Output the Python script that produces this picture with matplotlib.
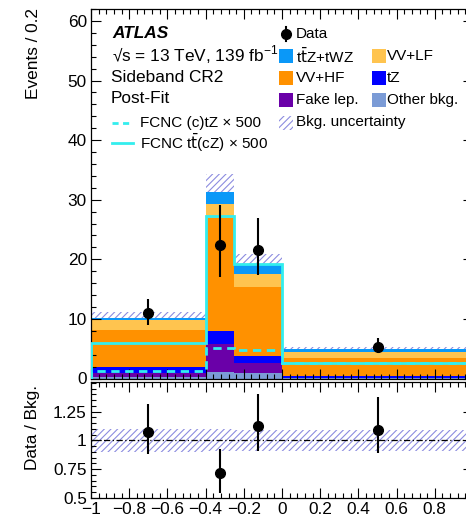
import numpy as np
import matplotlib
matplotlib.use('Agg')
import matplotlib.pyplot as plt
from matplotlib.patches import Rectangle
from matplotlib.lines import Line2D
from matplotlib.ticker import MultipleLocator, FixedLocator, FixedFormatter

plt.rcParams['font.family'] = ['Liberation Sans', 'DejaVu Sans']
plt.rcParams['hatch.linewidth'] = 0.8

W, H = 466, 517

# binning of the discriminant
edges = np.array([-1.0, -0.4, -0.25, 0.0, 1.0])
centres = 0.5 * (edges[1:] + edges[:-1])

# background stack (events / 0.2), bottom to top
other = np.array([0.25, 1.15, 0.85, 0.05])
fake = np.array([0.75, 4.62, 1.71, 0.10])
tz = np.array([0.95, 2.23, 1.24, 0.25])
vv_hf = np.array([6.15, 19.0, 11.6, 3.10])
vv_lf = np.array([1.70, 2.26, 2.20, 1.00])
ttz = np.array([0.35, 2.07, 1.54, 0.40])
bkg_unc = np.array([1.0, 3.0, 1.76, 0.46])

# data with asymmetric errors
data = np.array([10.93, 22.46, 21.6, 5.36])
data_lo = np.array([8.97, 17.1, 17.4, 4.35])
data_hi = np.array([13.36, 29.1, 26.85, 6.75])

# signal templates scaled by 500
fcnc_ctz = np.array([1.26, 5.2, 4.75, 2.6])
fcnc_ttcz = np.array([6.0, 27.2, 19.2, 2.66])

# tick labels of the ratio panel
x_ticks = [-1.0, -0.8, -0.6, -0.4, -0.2, 0.0, 0.2, 0.4, 0.6, 0.8]
x_labels = ['\u22121', '\u22120.8', '\u22120.6', '\u22120.4', '\u22120.2',
            '0', '0.2', '0.4', '0.6', '0.8']
r_ticks = [0.5, 0.75, 1.0, 1.25]
r_labels = ['0.5', '0.75', '1', '1.25']

stack = [
    (other, '#7b9bd6', 'Other bkg.'),
    (fake, '#6a00a8', 'Fake lep.'),
    (tz, '#0000ff', 'tZ'),
    (vv_hf, '#ff9100', 'VV+HF'),
    (vv_lf, '#ffc44f', 'VV+LF'),
    (ttz, '#0a98f8', r't$\bar{\rm t}$Z+tWZ'),
]
cyan = '#33eeee'
hatch_col = '#8c8ce0'
fs = 12.4
lfs = 11


def px(x, y):
    return x / W, 1 - y / H


fig = plt.figure(figsize=(W / 100, H / 100), dpi=100)
ax = fig.add_axes([91 / W, 1 - 378.5 / H, 382 / W, 369.5 / H])
rx = fig.add_axes([91 / W, 1 - 498 / H, 382 / W, 116.3 / H])

# stacked backgrounds
bottom = np.zeros(4)
for vals, col, lab in stack:
    ax.stairs(bottom + vals, edges, baseline=bottom.copy(), fill=True,
              color=col, lw=0, zorder=1)
    bottom = bottom + vals
total = bottom

# uncertainty band, drawn behind the stack
for i in range(4):
    ax.add_patch(Rectangle((edges[i], total[i] - bkg_unc[i]), edges[i + 1] - edges[i],
                           2 * bkg_unc[i], fill=False, hatch='/////',
                           edgecolor=hatch_col, lw=0, zorder=0.5))

# signals
ax.stairs(fcnc_ctz, edges, color=cyan, lw=2.0, ls=(0, (3, 2)), zorder=3)
ax.stairs(fcnc_ttcz, edges, color=cyan, lw=2.0, zorder=3)

# data
ax.errorbar(centres, data, yerr=[data - data_lo, data_hi - data], fmt='o',
            color='black', ms=7, elinewidth=1.5, capsize=0, zorder=5)

ax.set_xlim(-1, 1)
ax.set_ylim(0, 62)
ax.yaxis.set_major_locator(MultipleLocator(10))
ax.yaxis.set_minor_locator(MultipleLocator(2))
ax.xaxis.set_major_locator(MultipleLocator(0.2))
ax.xaxis.set_minor_locator(MultipleLocator(0.04))
ax.tick_params(labelbottom=False)

# ratio panel
ratio = data / total
r_lo = data_lo / total
r_hi = data_hi / total
rel = bkg_unc / total
for i in range(4):
    rx.add_patch(Rectangle((edges[i], 1 - rel[i]), edges[i + 1] - edges[i], 2 * rel[i],
                           fill=False, hatch='/////', edgecolor=hatch_col, lw=0, zorder=1))
rx.axhline(1, color='black', lw=0.9, ls=(0, (5, 2, 1, 2)), zorder=2)
rx.errorbar(centres, ratio, yerr=[ratio - r_lo, r_hi - ratio], fmt='o',
            color='black', ms=7, elinewidth=1.5, capsize=0, zorder=5)
rx.set_xlim(-1, 1)
rx.set_ylim(0.5, 1.51)
rx.yaxis.set_major_locator(FixedLocator(r_ticks))
rx.yaxis.set_major_formatter(FixedFormatter(r_labels))
rx.yaxis.set_minor_locator(MultipleLocator(0.05))
rx.xaxis.set_major_locator(FixedLocator(x_ticks))
rx.xaxis.set_major_formatter(FixedFormatter(x_labels))
rx.xaxis.set_minor_locator(MultipleLocator(0.04))

for a in (ax, rx):
    a.tick_params(which='both', direction='in', top=True, right=True, labelsize=fs,
                  width=0.8, pad=3)
    a.tick_params(which='major', length=7)
    a.tick_params(which='minor', length=3.5)
    for s in a.spines.values():
        s.set_linewidth(0.9)

fig.text(*px(33, 8), 'Events / 0.2', rotation=90, ha='center', va='top', fontsize=fs)
fig.text(*px(33, 427), 'Data / Bkg.', rotation=90, ha='center', va='center', fontsize=fs)

# labels block on the left
fig.text(*px(112, 33), 'ATLAS', fontsize=fs, fontweight='bold', fontstyle='italic', va='center')
fig.text(*px(112, 55), '\u221as = 13 TeV, 139 fb$^{\\mathregular{-1}}$', fontsize=fs, va='center')
fig.text(*px(111, 77), 'Sideband CR2', fontsize=fs, va='center')
fig.text(*px(111, 99), 'Post-Fit', fontsize=fs, va='center')
for y, ls, lab in [(123, (0, (2.2, 1.6)), 'FCNC (c)tZ \u00d7 500'),
                   (143, '-', 'FCNC t$\\bar{\\rm t}$(cZ) \u00d7 500')]:
    fig.add_artist(Line2D([112 / W, 133 / W], [1 - y / H] * 2, color=cyan, lw=2.0, ls=ls))
    fig.text(*px(140, y), lab, fontsize=lfs, va='center')

# legend on the right
fig.add_artist(Line2D([286 / W] * 2, [1 - 27 / H, 1 - 41 / H], color='black', lw=1.5))
fig.add_artist(Line2D([286 / W], [1 - 34 / H], marker='o', ms=7, color='black'))
fig.text(*px(296, 34), 'Data', fontsize=lfs, va='center')
entries = [
    (279, 296, 56, stack[5]), (372, 387, 56, stack[4]),
    (279, 296, 78, stack[3]), (372, 387, 78, stack[2]),
    (279, 296, 100, stack[1]), (372, 387, 100, stack[0]),
]
for xb, xt, y, (vals, col, lab) in entries:
    fig.add_artist(Rectangle(px(xb, y + 7), 14 / W, 14 / H, color=col, lw=0))
    fig.text(*px(xt, y), lab, fontsize=lfs, va='center')
fig.add_artist(Rectangle(px(279, 130), 14 / W, 14 / H, fill=False, hatch='/////',
                         edgecolor=hatch_col, lw=0))
fig.text(*px(296, 122), 'Bkg. uncertainty', fontsize=lfs, va='center')

fig.savefig('out.png', dpi=100)
